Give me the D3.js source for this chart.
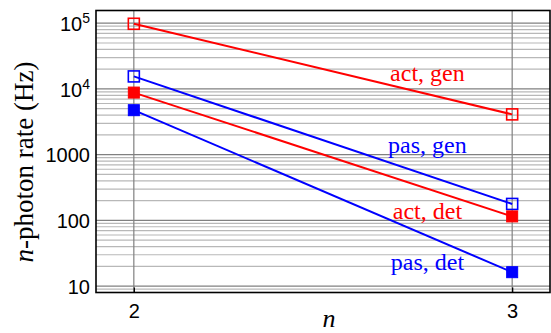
<!DOCTYPE html>
<html>
<head>
<meta charset="utf-8">
<script src="https://cdn.jsdelivr.net/npm/d3@7"></script>
<style>
  body { margin: 0; background: #fff; }
  svg { display: block; }
  .serif { font-family: "Liberation Serif", "DejaVu Serif", "Times New Roman", serif; }
  .sans { font-family: "Liberation Sans", Arial, sans-serif; }
</style>
</head>
<body>
<div id="chart"></div>
<script>
// 数据
const photonNumbers = [2, 3];
const seriesNames = ["act, gen", "pas, gen", "act, det", "pas, det"];
const actGen = [98000, 4100];
const pasGen = [15500, 178];
const actDet = [8800, 115];
const pasDet = [4750, 16.3];
const xTicks = [2, 3];
const yTicks = [10, 100, 1000, 1e4, 1e5];

// 样式配置
const series = [
    { name: seriesNames[0], values: actGen, color: "#ff0000", filled: false, label: [2.776, 13000] },
    { name: seriesNames[1], values: pasGen, color: "#0000ff", filled: false, label: [2.776, 1050] },
    { name: seriesNames[2], values: actDet, color: "#ff0000", filled: true, label: [2.776, 105] },
    { name: seriesNames[3], values: pasDet, color: "#0000ff", filled: true, label: [2.776, 17.5] }
];

const width = 551, height = 333;
const plot = { left: 96, right: 550, top: 10.5, bottom: 292.5 };

const svg = d3.select("#chart").append("svg")
    .attr("width", width)
    .attr("height", height);

const x = d3.scaleLinear().domain([1.9, 3.1]).range([plot.left, plot.right]);
const y = d3.scaleLog().domain([8, 1.56e5]).range([plot.bottom, plot.top]);

// 网格线
const minor = [];
for (let e = 0; e <= 5; e++) {
    for (let m = 1; m <= 9; m++) {
        const v = m * Math.pow(10, e);
        if (v >= y.domain()[0] && v <= y.domain()[1]) minor.push({ v, major: m === 1 });
    }
}
const grid = svg.append("g");
grid.selectAll("line.h")
    .data(minor.filter(d => !d.major))
    .enter().append("line")
    .attr("x1", plot.left).attr("x2", plot.right)
    .attr("y1", d => y(d.v)).attr("y2", d => y(d.v))
    .style("stroke", "#b8b8b8").style("stroke-width", 1.2);
grid.selectAll("line.hm")
    .data(minor.filter(d => d.major))
    .enter().append("line")
    .attr("x1", plot.left).attr("x2", plot.right)
    .attr("y1", d => y(d.v)).attr("y2", d => y(d.v))
    .style("stroke", "#808080").style("stroke-width", 1.2);
grid.selectAll("line.v")
    .data(xTicks)
    .enter().append("line")
    .attr("x1", d => x(d)).attr("x2", d => x(d))
    .attr("y1", plot.top).attr("y2", plot.bottom)
    .style("stroke", "#808080").style("stroke-width", 1.2);

// 坐标轴
const xAxis = svg.append("g")
    .attr("transform", `translate(0,${plot.bottom})`)
    .call(d3.axisBottom(x).tickValues(xTicks).tickFormat(d3.format("d"))
        .tickSizeInner(-5).tickSizeOuter(0).tickPadding(11));
xAxis.select(".domain").remove();
xAxis.selectAll(".tick line").style("stroke", "#000").style("stroke-width", 1.3);
xAxis.selectAll(".tick text")
    .attr("class", "sans")
    .style("font-size", "20px")
    .attr("dy", "0.72em")
    .style("fill", "#000");

const yAxis = svg.append("g")
    .attr("transform", `translate(${plot.left},0)`)
    .call(d3.axisLeft(y).tickValues(yTicks).tickSize(0).tickPadding(6).tickFormat(""));
yAxis.select(".domain").remove();
yAxis.selectAll(".tick").each(function(d) {
    const t = d3.select(this).select("text")
        .attr("class", "sans")
        .style("font-size", "20px")
        .style("fill", "#000")
        .attr("dy", "0.36em");
    const exp = Math.round(Math.log10(d));
    if (exp >= 4) {
        t.text(null);
        t.append("tspan").text("10");
        t.append("tspan").text(exp).attr("dy", "-0.55em").style("font-size", "14px");
    } else {
        t.text(d3.format("d")(d));
    }
});

// 边框
svg.append("rect")
    .attr("x", plot.left).attr("y", plot.top)
    .attr("width", plot.right - plot.left).attr("height", plot.bottom - plot.top)
    .style("fill", "none").style("stroke", "#000").style("stroke-width", 1.6);

// 折线和标记
const line = d3.line().x((d, i) => x(photonNumbers[i])).y(d => y(d));
const size = 11;
series.forEach(s => {
    svg.append("path")
        .datum(s.values)
        .attr("d", line)
        .style("fill", "none")
        .style("stroke", s.color)
        .style("stroke-width", 2);
    svg.selectAll(null)
        .data(s.values)
        .enter().append("rect")
        .attr("x", (d, i) => x(photonNumbers[i]) - size / 2)
        .attr("y", d => y(d) - size / 2)
        .attr("width", size).attr("height", size)
        .style("fill", s.filled ? s.color : "none")
        .style("stroke", s.color)
        .style("stroke-width", s.filled ? 1 : 1.6);
    svg.append("text")
        .attr("class", "serif")
        .attr("x", x(s.label[0]))
        .attr("y", y(s.label[1]))
        .attr("text-anchor", "middle")
        .style("font-size", "24px")
        .style("fill", s.color)
        .text(s.name);
});

// 轴标题
svg.append("text")
    .attr("class", "serif")
    .attr("x", 329).attr("y", 327)
    .attr("text-anchor", "middle")
    .style("font-style", "italic")
    .style("font-size", "26px")
    .text("n");

const yl = svg.append("text")
    .attr("class", "serif")
    .attr("transform", "translate(33,162) rotate(-90)")
    .attr("text-anchor", "middle")
    .style("font-size", "27px");
yl.append("tspan").style("font-style", "italic").text("n");
yl.append("tspan").text("-photon rate (Hz)");
</script>
</body>
</html>
